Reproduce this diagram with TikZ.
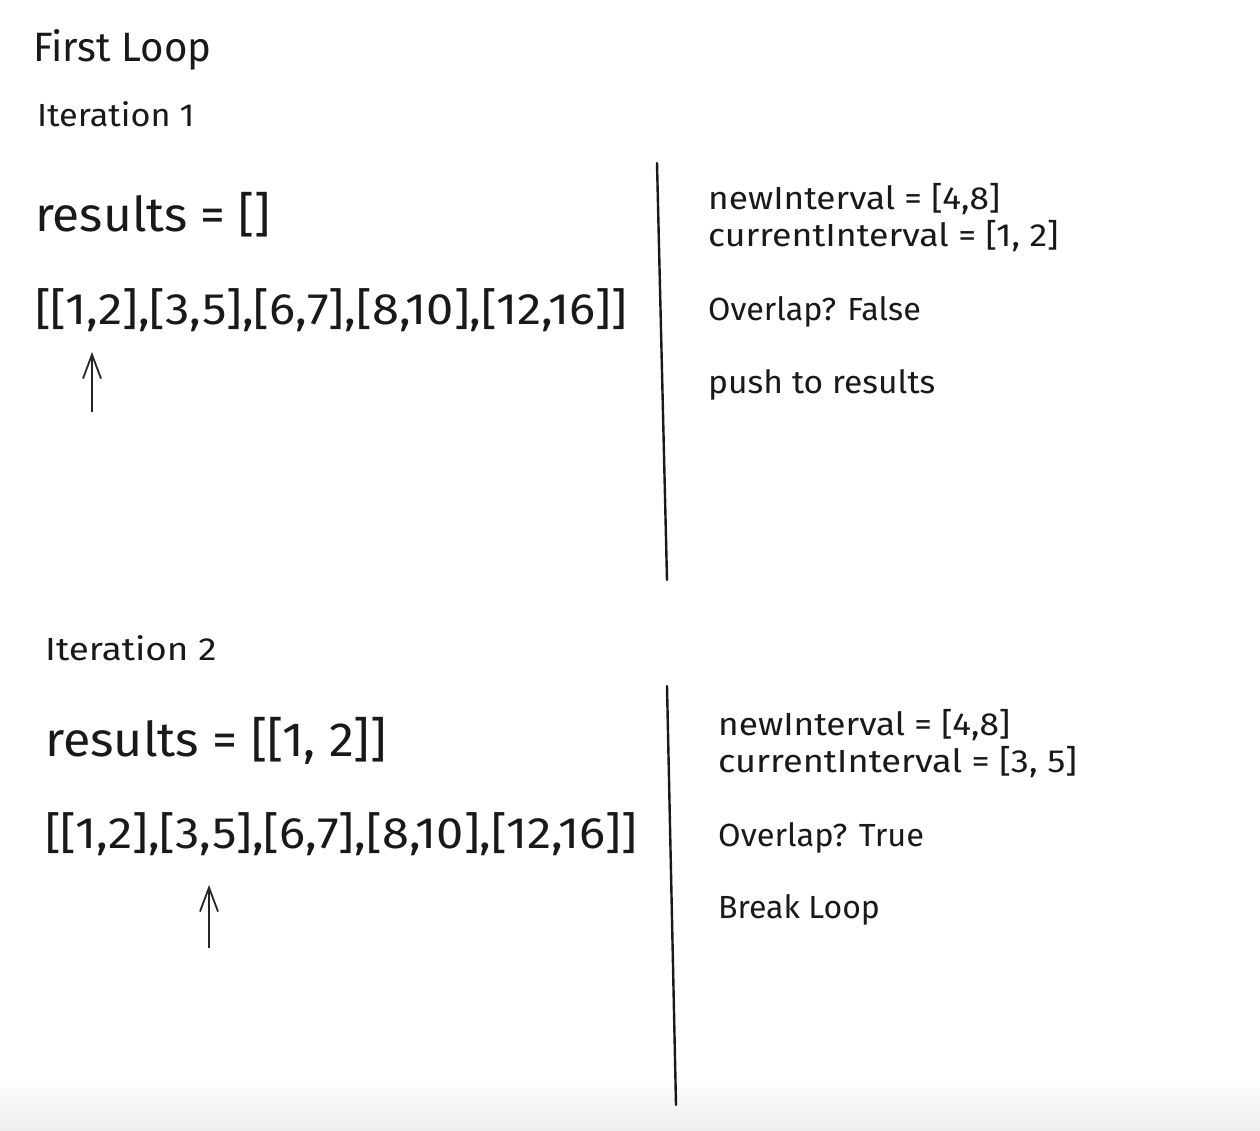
\documentclass[tikz,border=0pt]{standalone}
\usepackage{fontspec}
\usepackage{graphicx}
\setmainfont{Fira Sans}
\usetikzlibrary{arrows.meta}
\newcommand\hstretch[2]{\scalebox{#1}[1]{#2}}
\begin{document}
\begin{tikzpicture}[x=1pt,y=-1pt,
  txt/.style={anchor=base west, inner sep=0pt, text=black!90},
  title/.style={txt, font=\fontsize{41}{43}\selectfont},
  iter/.style={txt, font=\fontsize{32}{34}\selectfont},
  res/.style={txt, font=\fontsize{48}{50}\selectfont},
  lst/.style={txt, font=\fontsize{44}{46}\selectfont},
  side/.style={txt, font=\fontsize{32}{34}\selectfont},
  divider/.style={line width=2.4pt, black!90, line cap=round},
  pointer/.style={line width=2pt, black!85, -{Straight Barb[length=24pt,width=18pt,line width=1.8pt]}}]
\useasboundingbox (0,0) rectangle (1260,1131);
\fill[white] (0,0) rectangle (1260,1131);
\shade[top color=white, bottom color=black!7] (0,1078) rectangle (1260,1131);

% Iteration 1
\node[title] (t) at (33,62) {\hstretch{0.98}{First Loop}};
\node[iter] (i1) at (37,127) {\hstretch{1.07}{Iteration 1}};
\node[res] (r1) at (35,232) {\hstretch{1.035}{results = []}};
\node[lst] (l1) at (35,325) {\hstretch{1.11}{[[1,2],[3,5],[6,7],[8,10],[12,16]]}};
\coordinate (a1s) at (92,412);
\coordinate (a1e) at (92,352);
\draw[pointer] (a1s) -- (a1e);
\coordinate (d1a) at (657,163);
\coordinate (d1b) at (667,580);
\draw[divider] (d1a) -- (d1b);
\node[side] (n1) at (708,210) {\hstretch{1.10}{newInterval = [4,8]}};
\node[side] (c1) at (708,247) {\hstretch{1.115}{currentInterval = [1, 2]}};
\node[side] (o1) at (708,320) {\hstretch{1.01}{Overlap? False}};
\node[side] (p1) at (708,393) {\hstretch{1.05}{push to results}};

% Iteration 2
\node[iter] (i2) at (45,660) {\hstretch{1.15}{Iteration 2}};
\node[res] (r2) at (45,756) {\hstretch{1.046}{results = [[1, 2]]}};
\node[lst] (l2) at (45,848) {\hstretch{1.11}{[[1,2],[3,5],[6,7],[8,10],[12,16]]}};
\coordinate (a2s) at (209,948);
\coordinate (a2e) at (209,885);
\draw[pointer] (a2s) -- (a2e);
\coordinate (d2a) at (667,686);
\coordinate (d2b) at (676,1105);
\draw[divider] (d2a) -- (d2b);
\node[side] (n2) at (718,735) {\hstretch{1.10}{newInterval = [4,8]}};
\node[side] (c2) at (718,772) {\hstretch{1.13}{currentInterval = [3, 5]}};
\node[side] (o2) at (718,846) {\hstretch{1.02}{Overlap? True}};
\node[side] (b2) at (718,918) {Break Loop};
\end{tikzpicture}
\end{document}
